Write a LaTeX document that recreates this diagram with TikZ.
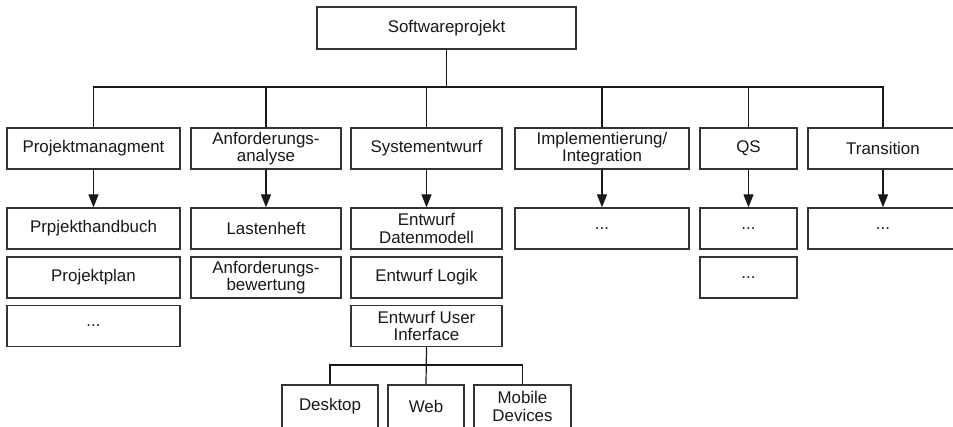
\documentclass[tikz,border=0pt]{standalone}
\usepackage{fontspec}
\setmainfont{Liberation Sans}
\usetikzlibrary{arrows.meta}

\tikzset{
  x=1pt, y=-1pt,
  box/.style={draw=black!80, line width=1.3pt, fill=white, inner sep=0pt,
    align=center, text=black!90, minimum height=41pt,
    font=\fontsize{16.9}{17.5}\selectfont},
  link/.style={draw=black!90, line width=1.2pt},
  arr/.style={link, -{Triangle[length=13pt,width=10pt]}},
}

\begin{document}
\begin{tikzpicture}
\useasboundingbox (0,0) rectangle (953,426);
\clip (0,0) rectangle (953,426);

% root
\node[box, minimum width=259pt, minimum height=42pt] (root) at (446.5,28) {Softwareprojekt};

% phases
\node[box, minimum width=173pt] (pm) at (93.5,148.5) {Projektmanagment};
\node[box, minimum width=150pt] (aa) at (266,148.5) {Anforderungs-\\analyse};
\node[box, minimum width=151pt] (se) at (426.5,148.5) {Systementwurf};
\node[box, minimum width=174pt] (ii) at (602,148.5) {Implementierung/\\Integration};
\node[box, minimum width=97pt]  (qs) at (748.5,148.5) {QS};
\node[box, minimum width=150pt] (tr) at (883,148.5) {Transition};

% results of each phase
\node[box, minimum width=173pt] (pm1) at (93.5,228.5) {Prpjekthandbuch};
\node[box, minimum width=173pt] (pm2) at (93.5,277.5) {Projektplan};
\node[box, minimum width=173pt] (pm3) at (93.5,326) {...};

\node[box, minimum width=150pt] (aa1) at (266,228.5) {Lastenheft};
\node[box, minimum width=150pt] (aa2) at (266,277.5) {Anforderungs-\\bewertung};

\node[box, minimum width=151pt] (se1) at (426.5,228.5) {Entwurf\\Datenmodell};
\node[box, minimum width=151pt] (se2) at (426.5,277.5) {Entwurf Logik};
\node[box, minimum width=151pt] (se3) at (426.5,326) {Entwurf User\\Inferface};

\node[box, minimum width=174pt] (ii1) at (602,228.5) {...};

\node[box, minimum width=97pt] (qs1) at (748.5,228.5) {...};
\node[box, minimum width=97pt] (qs2) at (748.5,277.5) {...};

\node[box, minimum width=150pt] (tr1) at (883,228.5) {...};

% user interface variants
\node[box, minimum width=96pt, minimum height=43pt] (ui1) at (330,406.5) {Desktop};
\node[box, minimum width=76pt, minimum height=43pt] (ui2) at (426,406.5) {Web};
\node[box, minimum width=97pt, minimum height=43pt] (ui3) at (522.5,406.5) {Mobile\\Devices};

% tree from the root to the phases
\coordinate (bus) at (0,87);
\draw[link] (root.south) -- (root.south |- bus);
\draw[link] (pm.north) -- (pm.north |- bus) -- (tr.north |- bus) -- (tr.north);
\foreach \n in {aa,se,ii,qs}
  \draw[link] (\n.north) -- (\n.north |- bus);

% arrows from phases to their results
\foreach \a/\b in {pm/pm1,aa/aa1,se/se1,ii/ii1,qs/qs1,tr/tr1}
  \draw[arr] (\a.south) -- (\b.north);

% tree from the user interface to its variants
\coordinate (uibus) at (0,365);
\draw[link] (se3.south) -- (ui2.north);
\draw[link] (ui1.north) -- (ui1.north |- uibus) -- (ui3.north |- uibus) -- (ui3.north);
\end{tikzpicture}
\end{document}
